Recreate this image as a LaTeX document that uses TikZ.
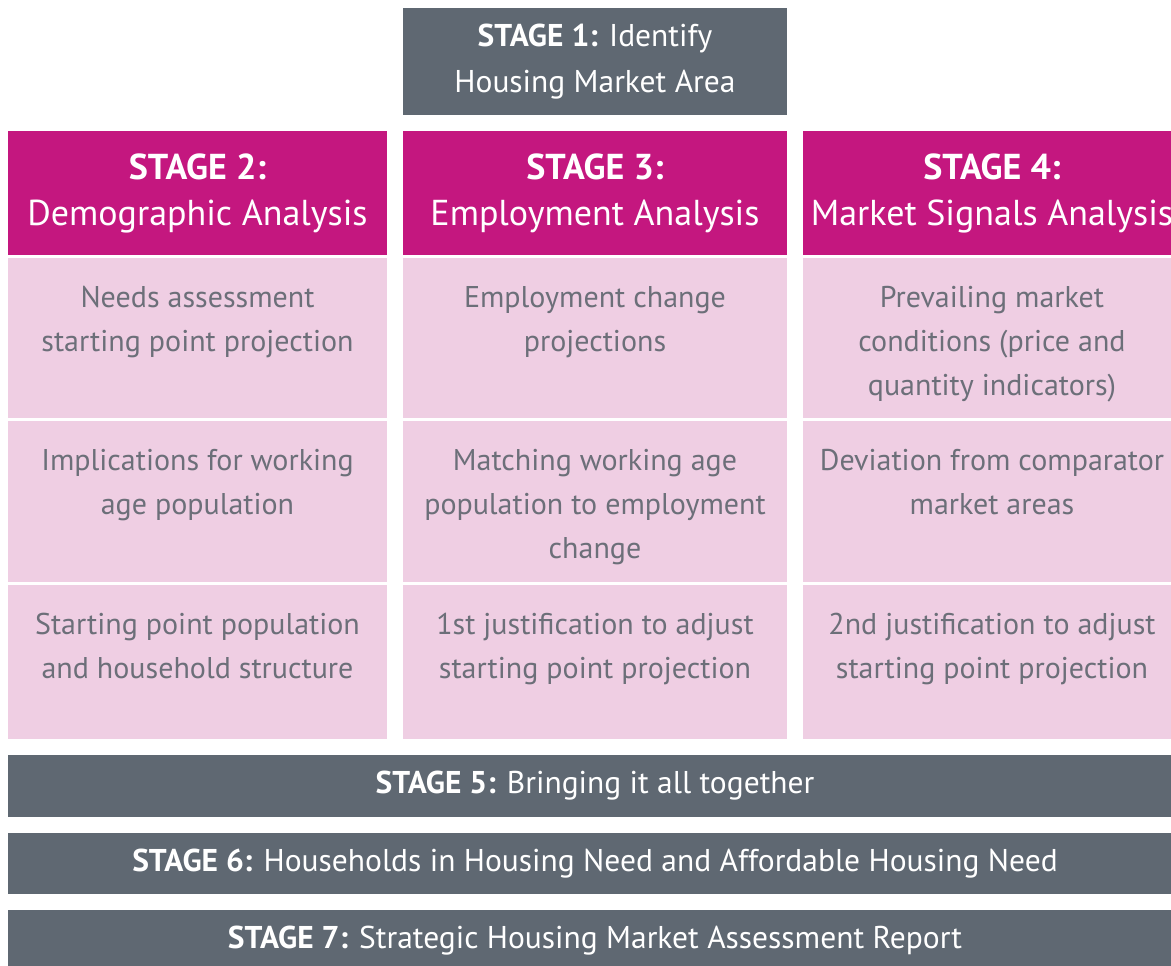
\documentclass[tikz,border=0pt]{standalone}
\usepackage{fontspec}
\setmainfont{PT Sans}
\usetikzlibrary{positioning}

\definecolor{slate}{HTML}{5F6872}
\definecolor{magenta}{HTML}{C4177F}
\definecolor{rose}{HTML}{EFCEE3}
\definecolor{bodygrey}{HTML}{6C6F79}

\tikzset{
    stagebar/.style={fill=slate, text=white, inner sep=0pt, align=center,
        font=\fontsize{31.5}{46}\selectfont},
    head/.style={fill=magenta, text=white, inner sep=0pt, align=center,
        minimum height=124pt, font=\fontsize{36}{46}\selectfont},
    cell/.style={fill=rose, inner sep=0pt},
    celltext/.style={text=bodygrey, inner sep=0pt, align=center,
        font=\fontsize{30}{44}\selectfont},
}

\begin{document}
\begin{tikzpicture}[x=1pt, y=-1pt]
    \useasboundingbox (0,0) rectangle (1171,966);
    \clip (0,0) rectangle (1171,966);

    % stage 1 on top of the middle column
    \node[stagebar, minimum width=384pt, minimum height=107pt] (s1) at (595,61.5)
        {\textbf{STAGE 1:} Identify\\Housing Market Area};

    % column headers
    \node[head, minimum width=379pt] (s2) at (197.5,193)
        {\textbf{\fontsize{36}{46}\selectfont STAGE 2:}\\Demographic Analysis};
    \node[head, minimum width=384pt] (s3) at (595,193)
        {\textbf{\fontsize{36}{46}\selectfont STAGE 3:}\\Employment Analysis};
    \node[head, minimum width=378pt] (s4) at (992,193)
        {\textbf{\fontsize{36}{46}\selectfont STAGE 4:}\\Market Signals Analysis};

    % first row
    \node[cell, minimum width=379pt, minimum height=160pt] (a1) at (197.5,338) {};
    \node[cell, minimum width=384pt, minimum height=160pt] (b1) at (595,338) {};
    \node[cell, minimum width=378pt, minimum height=160pt] (c1) at (992,338) {};
    % second row
    \node[cell, minimum width=379pt, minimum height=161pt] (a2) at (197.5,501.5) {};
    \node[cell, minimum width=384pt, minimum height=161pt] (b2) at (595,501.5) {};
    \node[cell, minimum width=378pt, minimum height=161pt] (c2) at (992,501.5) {};
    % third row
    \node[cell, minimum width=379pt, minimum height=154pt] (a3) at (197.5,662) {};
    \node[cell, minimum width=384pt, minimum height=154pt] (b3) at (595,662) {};
    \node[cell, minimum width=378pt, minimum height=154pt] (c3) at (992,662) {};

    \node[celltext, below=28pt of a1.north] (ta1) {Needs assessment\\starting point projection};
    \node[celltext, below=28pt of b1.north] (tb1) {Employment change\\projections};
    \node[celltext, below=28pt of c1.north] (tc1) {Prevailing market\\conditions (price and\\quantity indicators)};

    \node[celltext, below=28pt of a2.north] (ta2) {Implications for working\\age population};
    \node[celltext, below=28pt of b2.north] (tb2) {Matching working age\\population to employment\\change};
    \node[celltext, below=28pt of c2.north] (tc2) {Deviation from comparator\\market areas};

    \node[celltext, below=28pt of a3.north] (ta3) {Starting point population\\and household structure};
    \node[celltext, below=28pt of b3.north] (tb3) {1st justification to adjust\\starting point projection};
    \node[celltext, below=28pt of c3.north] (tc3) {2nd justification to adjust\\starting point projection};

    % full width stages
    \node[stagebar, minimum width=1174pt, minimum height=62pt] (s5) at (595,786)
        {\textbf{STAGE 5:} Bringing it all together};
    \node[stagebar, minimum width=1174pt, minimum height=61pt] (s6) at (595,863.5)
        {\textbf{STAGE 6:} Households in Housing Need and Affordable Housing Need};
    \node[stagebar, minimum width=1174pt, minimum height=62pt] (s7) at (595,941)
        {\textbf{STAGE 7:} Strategic Housing Market Assessment Report};
\end{tikzpicture}
\end{document}
